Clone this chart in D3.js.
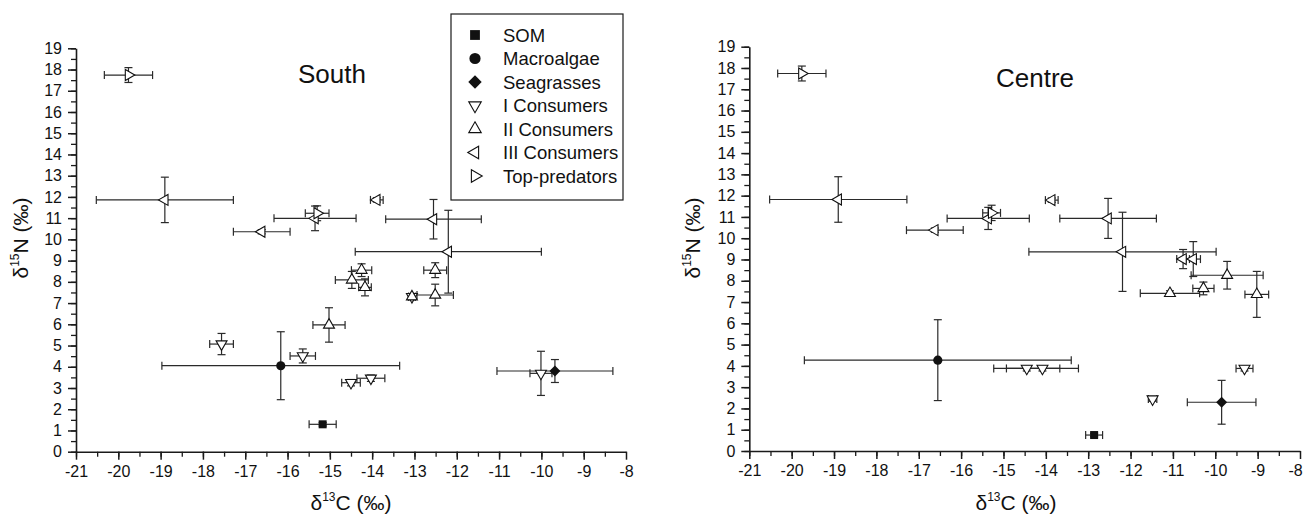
<!DOCTYPE html>
<html>
<head>
<meta charset="utf-8">
<script src="https://cdn.jsdelivr.net/npm/d3@7"></script>
<style>
  body { margin: 0; background: #fff; }
  svg text { font-family: "Liberation Sans", Arial, Helvetica, sans-serif; fill: #111; }
</style>
</head>
<body>
<svg id="chart" width="1306" height="516"></svg>
<script>
// legend / groups
var groups = ["SOM", "Macroalgae", "Seagrasses", "I Consumers", "II Consumers", "III Consumers", "Top-predators"];

// [group index, d13C, d15N, sd C, sd N]
var southData = [
  [0, -15.17, 1.29, 0.32, 0.08],
  [1, -16.16, 4.05, 2.81, 1.6],
  [2, -9.68, 3.8, 1.37, 0.54],
  [3, -17.56, 5.07, 0.28, 0.5],
  [3, -15.64, 4.51, 0.3, 0.33],
  [3, -14.5, 3.25, 0.22, 0.15],
  [3, -14.03, 3.46, 0.33, 0.15],
  [3, -10.01, 3.69, 0.26, 1.04],
  [3, -13.06, 7.3, 0.08, 0.08],
  [4, -14.25, 8.55, 0.24, 0.3],
  [4, -14.48, 8.09, 0.39, 0.4],
  [4, -14.17, 7.74, 0.15, 0.4],
  [4, -12.51, 8.55, 0.27, 0.35],
  [4, -12.51, 7.38, 0.43, 0.51],
  [4, -13.06, 7.3, 0.08, 0.08],
  [4, -15.02, 5.97, 0.38, 0.81],
  [5, -18.9, 11.86, 1.62, 1.07],
  [5, -16.61, 10.36, 0.67, 0.1],
  [5, -15.35, 10.99, 0.97, 0.58],
  [5, -13.89, 11.86, 0.15, 0.1],
  [5, -12.55, 10.95, 1.13, 0.93],
  [5, -12.2, 9.42, 2.2, 1.95],
  [6, -19.76, 17.74, 0.57, 0.35],
  [6, -15.3, 11.23, 0.28, 0.35]
];

var centreData = [
  [0, -12.86, 0.75, 0.2, 0.08],
  [1, -16.55, 4.27, 3.15, 1.9],
  [2, -9.85, 2.29, 0.81, 1.03],
  [3, -14.45, 3.88, 0.78, 0.12],
  [3, -14.08, 3.88, 0.85, 0.12],
  [3, -9.31, 3.88, 0.2, 0.12],
  [3, -11.48, 2.44, 0.1, 0.1],
  [4, -9.72, 8.26, 0.85, 0.65],
  [4, -9.02, 7.36, 0.28, 1.08],
  [4, -10.28, 7.64, 0.25, 0.3],
  [4, -11.07, 7.41, 0.7, 0.12],
  [5, -18.9, 11.82, 1.62, 1.07],
  [5, -16.62, 10.38, 0.67, 0.1],
  [5, -15.36, 10.93, 0.97, 0.52],
  [5, -13.86, 11.79, 0.15, 0.1],
  [5, -12.53, 10.93, 1.14, 0.94],
  [5, -12.19, 9.36, 2.21, 1.86],
  [5, -10.76, 9.02, 0.15, 0.45],
  [5, -10.52, 9.02, 0.17, 0.82],
  [6, -19.76, 17.74, 0.57, 0.35],
  [6, -15.28, 11.19, 0.21, 0.36]
];

var xTicks = d3.range(-21, -7, 1);
var yTicks = d3.range(0, 20, 1);
var xMinor = d3.range(-21, -8, 0.5);
var yMinor = d3.range(0, 19.5, 0.5);

var svg = d3.select("#chart");
var ink = "#1a1a1a";

// marker shapes for each group
function markerPath(g, scale) {
  scale = scale || 1;
  if (g == 0) return d3.symbol().type(d3.symbolSquare).size(64 * scale)();
  if (g == 1) return d3.symbol().type(d3.symbolCircle).size(66 * scale)();
  if (g == 2) return d3.symbol().type(d3.symbolSquare).size(60 * scale)();
  return d3.symbol().type(d3.symbolTriangle).size(52 * scale)();
}
var rot = [0, 0, 45, 180, 0, -90, 90];

function drawPanel(p) {
  var x = d3.scaleLinear().domain([-21, -8]).range([p.x0, p.x1]);
  var y = d3.scaleLinear().domain([0, 19]).range([p.y0, p.y1]);
  var g = svg.append("g");

  // minor ticks
  g.append("g")
    .attr("transform", "translate(0," + p.y0 + ")")
    .call(d3.axisBottom(x).tickValues(xMinor).tickSize(5).tickFormat("").tickSizeOuter(0))
    .call(function (a) { a.select(".domain").remove(); a.selectAll("line").attr("stroke", ink).attr("stroke-width", 1.3); });
  g.append("g")
    .attr("transform", "translate(" + p.x0 + ",0)")
    .call(d3.axisLeft(y).tickValues(yMinor).tickSize(5).tickFormat("").tickSizeOuter(0))
    .call(function (a) { a.select(".domain").remove(); a.selectAll("line").attr("stroke", ink).attr("stroke-width", 1.3); });

  // major axes
  var xa = g.append("g")
    .attr("transform", "translate(0," + p.y0 + ")")
    .call(d3.axisBottom(x).tickValues(xTicks).tickSize(8).tickPadding(6).tickSizeOuter(0).tickFormat(d3.format("d")));
  var ya = g.append("g")
    .attr("transform", "translate(" + p.x0 + ",0)")
    .call(d3.axisLeft(y).tickValues(yTicks).tickSize(8).tickPadding(6).tickSizeOuter(0));
  [xa, ya].forEach(function (a) {
    a.select(".domain").attr("stroke", ink).attr("stroke-width", 1.6);
    a.selectAll("line").attr("stroke", ink).attr("stroke-width", 1.5);
    a.selectAll("text").attr("font-size", 16).attr("fill", ink)
      .text(function (d) { return d < 0 ? "-" + Math.abs(d) : d; });
  });
  // keep the last x label inside the page
  xa.selectAll(".tick text").filter(function (d) { return d == -8; }).attr("dx", p.lastDx || 0);

  // axis titles
  var xl = g.append("text")
    .attr("x", p.xlabX).attr("y", 510)
    .attr("text-anchor", "middle").attr("font-size", 21);
  xl.append("tspan").text("δ");
  xl.append("tspan").attr("font-size", 12).attr("dy", -9).text("13");
  xl.append("tspan").attr("dy", 9).text("C (‰)");

  var yl = g.append("text")
    .attr("transform", "translate(" + p.ylabX + ",238) rotate(-90)")
    .attr("text-anchor", "middle").attr("font-size", 21);
  yl.append("tspan").text("δ");
  yl.append("tspan").attr("font-size", 12).attr("dy", -9).text("15");
  yl.append("tspan").attr("dy", 9).text("N (‰)");

  g.append("text")
    .attr("x", p.titleX).attr("y", p.titleY)
    .attr("font-size", 26).text(p.title);

  var pts = p.data.map(function (r) {
    return { g: r[0], x: r[1], y: r[2], xe: r[3], ye: r[4] };
  });

  // error bars
  var eb = g.append("g").attr("stroke", "#2a2a2a").attr("stroke-width", 1.2).attr("fill", "none");
  pts.forEach(function (d) {
    var cx = x(d.x), cy = y(d.y);
    var xl0 = x(d.x - d.xe), xl1 = x(d.x + d.xe);
    var yl0 = y(d.y - d.ye), yl1 = y(d.y + d.ye);
    eb.append("line").attr("x1", xl0).attr("x2", xl1).attr("y1", cy).attr("y2", cy);
    eb.append("line").attr("x1", xl0).attr("x2", xl0).attr("y1", cy - 4).attr("y2", cy + 4);
    eb.append("line").attr("x1", xl1).attr("x2", xl1).attr("y1", cy - 4).attr("y2", cy + 4);
    eb.append("line").attr("x1", cx).attr("x2", cx).attr("y1", yl0).attr("y2", yl1);
    eb.append("line").attr("x1", cx - 4).attr("x2", cx + 4).attr("y1", yl0).attr("y2", yl0);
    eb.append("line").attr("x1", cx - 4).attr("x2", cx + 4).attr("y1", yl1).attr("y2", yl1);
  });

  // markers
  g.append("g").selectAll("path")
    .data(pts)
    .enter().append("path")
    .attr("d", function (d) { return markerPath(d.g); })
    .attr("transform", function (d) { return "translate(" + x(d.x) + "," + y(d.y) + ") rotate(" + rot[d.g] + ")"; })
    .attr("fill", function (d) { return d.g < 3 ? "#111" : "#fff"; })
    .attr("stroke", "#111")
    .attr("stroke-width", function (d) { return d.g < 3 ? 0 : 1.1; });
}

drawPanel({ data: southData, title: "South", x0: 76, x1: 626, y0: 451.7, y1: 48.3,
  titleX: 298, titleY: 83, xlabX: 351, ylabX: 28 });
drawPanel({ data: centreData, title: "Centre", x0: 749.3, x1: 1300, y0: 451, y1: 46.7,
  titleX: 996, titleY: 87, xlabX: 1016, ylabX: 700, lastDx: -5 });

// legend
var lg = svg.append("g").attr("transform", "translate(451,14)");
lg.append("rect").attr("width", 172).attr("height", 186)
  .attr("fill", "#fff").attr("stroke", ink).attr("stroke-width", 1.2);
var item = lg.selectAll("g.item")
  .data(groups)
  .enter().append("g")
  .attr("class", "item")
  .attr("transform", function (d, i) { return "translate(0," + (21 + i * 23.5) + ")"; });
item.append("path")
  .attr("d", function (d, i) { return markerPath(i, i < 3 ? 1.5 : 1.3); })
  .attr("transform", function (d, i) { return "translate(24,0) rotate(" + rot[i] + ")"; })
  .attr("fill", function (d, i) { return i < 3 ? "#111" : "#fff"; })
  .attr("stroke", "#111")
  .attr("stroke-width", function (d, i) { return i < 3 ? 0 : 1.1; });
item.append("text")
  .attr("x", 52).attr("y", 6.5)
  .attr("font-size", 18.5)
  .text(function (d) { return d; });
</script>
</body>
</html>
